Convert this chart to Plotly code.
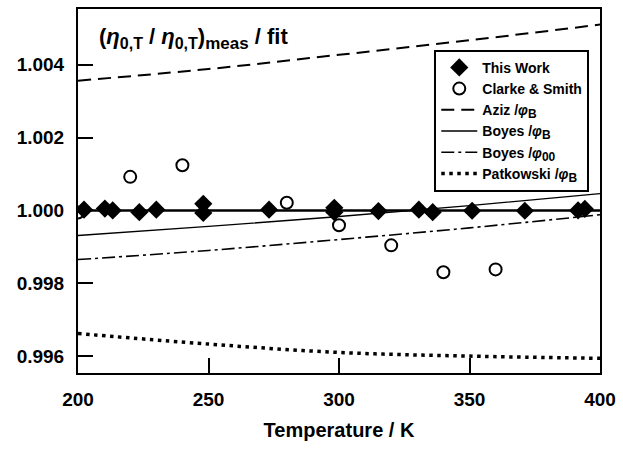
import plotly.graph_objects as go

# --- data ---
this_work_T = [202.3, 210.3, 213.3, 223.5, 230.0, 248.0, 248.0, 273.2, 298.2, 298.2, 315.1, 330.6, 335.9, 351.0, 371.2, 391.6, 394.2]
this_work_v = [1.00002, 1.00005, 1.00000, 0.99995, 1.00002, 1.00018, 0.99993, 1.00002, 1.00007, 0.99995, 0.99998, 1.00002, 0.99995, 0.99999, 0.99999, 1.00000, 1.00004]

clarke_T = [200, 220, 240, 280, 300, 320, 340, 360]
clarke_v = [0.99994, 1.00092, 1.00124, 1.00021, 0.99959, 0.99904, 0.99830, 0.99838]

fit_T = [200, 400]
fit_v = [1.0, 1.0]

curve_T = [200, 250, 300, 350, 400]
aziz_v = [1.00356, 1.00388, 1.00427, 1.00467, 1.00510]
boyes_B_v = [0.99931, 0.99956, 0.99983, 1.00013, 1.00046]
boyes_00_v = [0.99865, 0.99890, 0.99920, 0.99952, 0.99988]
patkowski_v = [0.99662, 0.99633, 0.99610, 0.99600, 0.99594]

x_ticks = [200, 250, 300, 350, 400]
y_ticks = [0.996, 0.998, 1.000, 1.002, 1.004]
y_labels = ["0.996", "0.998", "1.000", "1.002", "1.004"]

FONT = "Liberation Sans Narrow, Liberation Sans, Arial, sans-serif"


def sub(t, size):
    return "<sub><span style='font-size:%dpx'>%s</span></sub>" % (size, t)


fig = go.Figure()

fig.add_trace(go.Scatter(x=fit_T, y=fit_v, mode="lines", line=dict(color="black", width=2.5),
                         showlegend=False, hoverinfo="skip"))
fig.add_trace(go.Scatter(x=this_work_T, y=this_work_v, mode="markers", name="This Work",
                         marker=dict(symbol="diamond", size=14, color="black")))
fig.add_trace(go.Scatter(x=clarke_T, y=clarke_v, mode="markers", name="Clarke & Smith",
                         marker=dict(symbol="circle-open", size=12, color="black", line=dict(width=2))))
fig.add_trace(go.Scatter(x=curve_T, y=aziz_v, mode="lines", name="Aziz /<i>φ</i>" + sub("B", 12),
                         line=dict(color="black", width=2, dash="13px,7px", shape="spline")))
fig.add_trace(go.Scatter(x=curve_T, y=boyes_B_v, mode="lines", name="Boyes /<i>φ</i>" + sub("B", 12),
                         line=dict(color="black", width=1.4, shape="spline")))
fig.add_trace(go.Scatter(x=curve_T, y=boyes_00_v, mode="lines", name="Boyes /<i>φ</i>" + sub("00", 12),
                         line=dict(color="black", width=1.6, dash="13px,4px,3px,4px", shape="spline")))
fig.add_trace(go.Scatter(x=curve_T, y=patkowski_v, mode="lines", name="Patkowski /<i>φ</i>" + sub("B", 12),
                         line=dict(color="black", width=3.5, dash="3.5px,4.5px", shape="spline")))

axis_common = dict(showgrid=False, zeroline=False, showline=True, linecolor="black", linewidth=2,
                   mirror=True, ticks="inside", ticklen=15, tickwidth=2, tickcolor="black",
                   tickfont=dict(family=FONT, size=19, color="black", weight="bold"))

fig.update_xaxes(range=[200, 400], tickvals=x_ticks, ticktext=[str(t) for t in x_ticks],
                 title=dict(text="Temperature / K", font=dict(family=FONT, size=20, color="black", weight="bold"),
                            standoff=14),
                 ticklabelstandoff=8, **axis_common)
fig.update_yaxes(range=[0.995536, 1.005528], tickvals=y_ticks, ticktext=y_labels,
                 ticklabelstandoff=8, **axis_common)

fig.add_annotation(xref="paper", yref="paper", x=(97 - 78) / 526, y=(373 - 37) / 366,
                   xanchor="left", yanchor="middle", showarrow=False,
                   text="(<i>η</i>" + sub("0,T", 16) + " / <i>η</i>" + sub("0,T", 16) + ")"
                        + sub("meas", 17) + " / fit",
                   font=dict(family=FONT, size=22, color="black", weight="bold"))

fig.update_layout(
    width=623, height=453,
    margin=dict(l=78, r=19, t=7, b=80),
    paper_bgcolor="white", plot_bgcolor="white",
    legend=dict(x=(437 - 78) / 526, y=(373 - 48) / 366, xanchor="left", yanchor="top",
                bgcolor="white", bordercolor="black", borderwidth=2,
                font=dict(family=FONT, size=14, color="black", weight="bold"),
                itemwidth=36, tracegroupgap=0),
    showlegend=True,
)

fig.write_html("out.html")
